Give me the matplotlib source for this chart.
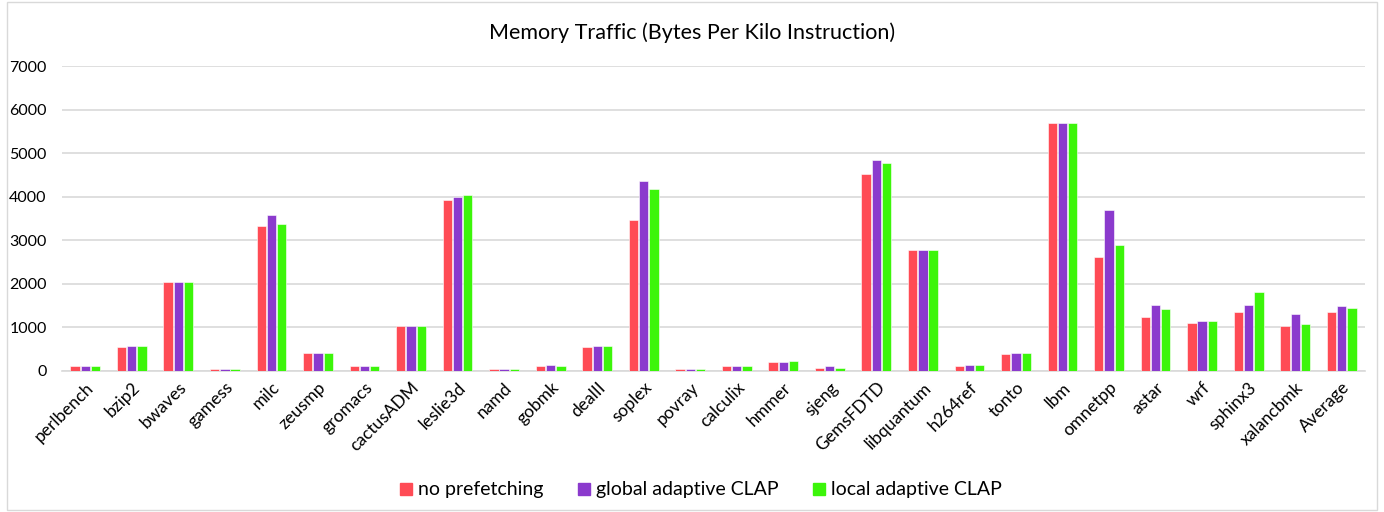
import numpy as np
import matplotlib
matplotlib.use("Agg")
import matplotlib.pyplot as plt
from matplotlib.patches import Rectangle

plt.rcParams['font.family'] = ['Lato', 'DejaVu Sans']

benchmarks = [
    "perlbench", "bzip2", "bwaves", "gamess", "milc", "zeusmp", "gromacs",
    "cactusADM", "leslie3d", "namd", "gobmk", "dealII", "soplex", "povray",
    "calculix", "hmmer", "sjeng", "GemsFDTD", "libquantum", "h264ref",
    "tonto", "lbm", "omnetpp", "astar", "wrf", "sphinx3", "xalancbmk", "Average",
]
no_prefetching = [
    105, 540, 2035, 50, 3320, 415, 105, 1025, 3930, 50, 110, 540, 3470, 50,
    110, 200, 75, 4510, 2770, 110, 385, 5700, 2615, 1240, 1110, 1365, 1025, 1365,
]
global_clap = [
    105, 570, 2035, 50, 3570, 415, 105, 1025, 4000, 50, 145, 570, 4360, 50,
    110, 200, 110, 4850, 2770, 145, 415, 5700, 3685, 1515, 1150, 1515, 1300, 1485,
]
local_clap = [
    105, 570, 2035, 50, 3385, 415, 105, 1025, 4050, 50, 110, 570, 4175, 50,
    110, 230, 75, 4785, 2770, 145, 415, 5700, 2890, 1425, 1150, 1820, 1090, 1455,
]
series_names = ["no prefetching", "global adaptive CLAP", "local adaptive CLAP"]
colors = ["#FF4B55", "#8B3ACD", "#3CF50A"]

fig = plt.figure(figsize=(13.84, 5.12), dpi=100)
ax = fig.add_axes([62 / 1384, 1 - 371 / 512, (1365 - 62) / 1384, (371 - 66) / 512])

x = np.arange(len(benchmarks))
width = 0.2
for i, (vals, name, col) in enumerate(zip([no_prefetching, global_clap, local_clap],
                                          series_names, colors)):
    ax.bar(x + (i - 1) * (width + 0.02), vals, width, color=col, label=name,
           edgecolor="white", linewidth=0.4, zorder=3)

ax.set_xlim(-0.5, len(benchmarks) - 0.5)
ax.set_ylim(0, 7000)
ax.set_yticks(range(0, 7001, 1000))
ax.yaxis.grid(True, color="#D9D9D9", linewidth=1.2, zorder=0)
for s in ["top", "right", "left"]:
    ax.spines[s].set_visible(False)
ax.spines["bottom"].set_color("#D9D9D9")
ax.spines["bottom"].set_linewidth(1.2)
ax.tick_params(axis="both", length=0, labelsize=11.5, colors="#000000")
ax.tick_params(axis="y", pad=11)
ax.tick_params(axis="x", pad=6)
ax.set_xticks(x)
ax.set_xticklabels(benchmarks, rotation=45, ha="right", rotation_mode="anchor", fontsize=12.5)

fig.text(0.5, 1 - 33 / 512, "Memory Traffic (Bytes Per Kilo Instruction)",
         ha="center", va="center", fontsize=15.5)

handles = [plt.Line2D([], [], marker="s", linestyle="none", markersize=9,
                      markerfacecolor=c, markeredgecolor=c) for c in colors]
fig.legend(handles, series_names, loc="center", bbox_to_anchor=(0.505, 1 - 490 / 512),
           ncol=3, frameon=False, fontsize=14, handletextpad=0.1, columnspacing=1.6,
           handlelength=1.0)

fig.patches.append(Rectangle((7 / 1384, 0.003), 1 - 14 / 1384, 0.994,
                             transform=fig.transFigure, fill=False,
                             edgecolor="#D9D9D9", linewidth=1))

fig.savefig("out.png", dpi=100)
